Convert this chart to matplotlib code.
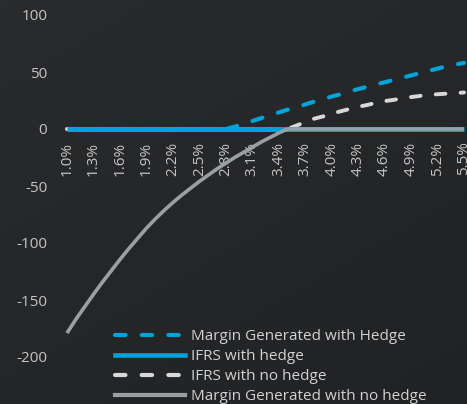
import numpy as np
import matplotlib
matplotlib.use("Agg")
import matplotlib.pyplot as plt
from matplotlib.lines import Line2D

plt.rcParams['font.family'] = ['Open Sans', 'DejaVu Sans']

# Interest rate scenarios (0.1% steps)
rates = [1.0, 1.1, 1.2, 1.3, 1.4, 1.5, 1.6, 1.7, 1.8, 1.9,
         2.0, 2.1, 2.2, 2.3, 2.4, 2.5, 2.6, 2.7, 2.8, 2.9,
         3.0, 3.1, 3.2, 3.3, 3.4, 3.5, 3.6, 3.7, 3.8, 3.9,
         4.0, 4.1, 4.2, 4.3, 4.4, 4.5, 4.6, 4.7, 4.8, 4.9,
         5.0, 5.1, 5.2, 5.3, 5.4, 5.5]

margin_with_hedge = [0, 0, 0, 0, 0, 0, 0, 0, 0, 0,
                     0, 0, 0, 0, 0, 0, 0, 0, 0, 2,
                     4.5, 7, 9.5, 12, 14.5, 17, 19, 21.5, 24, 26,
                     28.5, 30.5, 33, 35, 37, 39, 41, 43, 45, 47,
                     49, 51, 53, 55, 56.5, 58]

ifrs_with_hedge = [0] * 46

ifrs_no_hedge = [0, 0, 0, 0, 0, 0, 0, 0, 0, 0,
                 0, 0, 0, 0, 0, 0, 0, 0, 0, 0,
                 0, 0, 0, 0, 0, 0, 3, 6, 9, 11,
                 13.5, 15.5, 17.5, 19.5, 21, 23, 24.5, 25.5, 27, 28,
                 29, 30, 30.5, 31, 31.5, 32]

margin_no_hedge = [-179, -167, -156, -145, -134.5, -124.5, -114.5, -105, -96, -87,
                   -79, -71.5, -64.5, -58, -52, -46, -40.5, -35, -30, -25,
                   -20.5, -16, -11.5, -7.5, -3.5, 0, 0, 0, 0, 0,
                   0, 0, 0, 0, 0, 0, 0, 0, 0, 0,
                   0, 0, 0, 0, 0, 0]

tick_rates = rates[::3]
y_ticks = [100, 50, 0, -50, -100, -150, -200]

BLUE = '#00a3da'
WHITE = '#d8d8d8'
GREY = '#9c9fa1'
TEXT = '#c4c4c4'

W, H = 467, 404
fig = plt.figure(figsize=(W / 100, H / 100), dpi=100)

# dark, slightly graded backdrop
bg = fig.add_axes([0, 0, 1, 1], zorder=-5)
yy, xx = np.mgrid[0:1:200j, 0:1:200j]
shade = 0.165 - 0.035 * (0.6 * yy + 0.4 * xx)
img = np.dstack([shade, shade + 0.004, shade + 0.012])
bg.imshow(np.clip(img, 0, 1), extent=[0, 1, 0, 1], aspect='auto')
bg.axis('off')

x = np.arange(len(rates))
left_px, right_px = 62.6, 468.4
top_px, bot_px = 15, 357
ax = fig.add_axes([left_px / W, 1 - bot_px / H,
                   (right_px - left_px) / W, (bot_px - top_px) / H])
ax.patch.set_alpha(0)

# x tick labels sit directly under the zero line
ax.spines['bottom'].set_position(('data', 0))
for s in ax.spines.values():
    s.set_visible(False)

dash = dict(dashes=(2.5, 3.9), dash_capstyle='round', solid_capstyle='round')
ax.plot(x, margin_with_hedge, color=BLUE, lw=3.0, zorder=2, **dash)
ax.plot(x, ifrs_no_hedge, color=WHITE, lw=2.8, zorder=2, **dash)
ax.plot(x, ifrs_with_hedge, color=BLUE, lw=3.6, zorder=3, solid_capstyle='butt')
ax.plot(x, margin_no_hedge, color=GREY, lw=2.6, zorder=4, solid_capstyle='butt')

ax.set_xlim(-0.5, len(rates) - 0.5)
ax.set_ylim(-200, 100)
ax.set_yticks(y_ticks)
ax.set_yticklabels([str(v) for v in y_ticks])
ax.set_xticks(x[::3])
ax.set_xticklabels([f"{r:.1f}%" for r in tick_rates])
ax.tick_params(axis='x', length=0, pad=9, labelsize=11, colors=TEXT,
               labelrotation=90)
ax.tick_params(axis='y', length=0, pad=11, labelsize=11, colors=TEXT)

handles = [
    Line2D([], [], color=BLUE, lw=3.0, **dash),
    Line2D([], [], color=BLUE, lw=3.3),
    Line2D([], [], color=WHITE, lw=3.0, **dash),
    Line2D([], [], color=GREY, lw=3.0),
]
labels = ['Margin Generated with Hedge', 'IFRS with hedge',
          'IFRS with no hedge', 'Margin Generated with no hedge']
fig.legend(handles, labels, loc='upper left',
           bbox_to_anchor=(115 / W, 1 - 329 / H), frameon=False,
           fontsize=11, handlelength=4.6, handletextpad=0.4,
           labelspacing=0.33, borderpad=0, borderaxespad=0,
           labelcolor='#d2d2d2')

fig.savefig('out.png', dpi=100)
